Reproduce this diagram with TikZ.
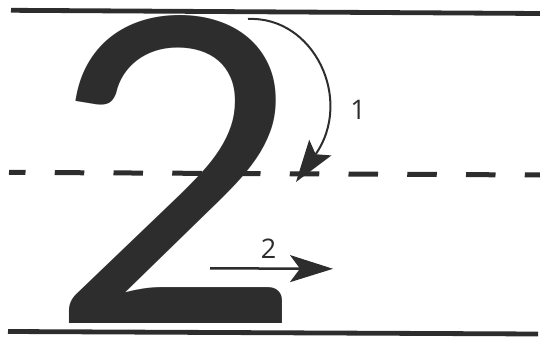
\documentclass[tikz,border=0pt]{standalone}
\usepackage{fontspec}
\usepackage{graphicx}
\usetikzlibrary{arrows.meta}
\newfontfamily\digitfont{Lato}
\newfontfamily\labelfont{Open Sans}
\definecolor{ink}{RGB}{45,45,45}
\newsavebox\twobox
\newdimen\twowd \newdimen\twoht \newdimen\twolsb \newdimen\tworsb
\tikzset{
  rule/.style={draw=ink, line width=4.8pt},
  midrule/.style={draw=ink, line width=5pt, dash pattern=on 29.5pt off 29.25pt, dash phase=13pt},
  strokearrow/.style={draw=ink, line width=2pt},
  label/.style={inner sep=0pt, text=ink, font=\labelfont\fontsize{27}{27}\selectfont}
}
\begin{document}
\sbox\twobox{\digitfont\fontsize{100}{100}\selectfont 2%
  \global\twolsb=\XeTeXglyphbounds1 \XeTeXcharglyph`2\relax
  \global\tworsb=\XeTeXglyphbounds3 \XeTeXcharglyph`2\relax}%
\global\twowd=\wd\twobox \global\twoht=\ht\twobox
\begin{tikzpicture}[x=1pt,y=-1pt]
\useasboundingbox (0,0) rectangle (540,339);
\pgfmathsetmacro\inkw{\twowd-\twolsb-\tworsb}
\pgfmathsetmacro\sx{213/\inkw}
\pgfmathsetmacro\sy{308/\twoht}
\pgfmathsetmacro\gx{69-\sx*\twolsb}
% guide lines
\coordinate (tl) at (11,10.3);
\coordinate (tr) at (540,13.5);
\coordinate (ml) at (9,172.4);
\coordinate (mr) at (540,175);
\coordinate (bl) at (8,331.5);
\coordinate (br) at (538,334);
\draw[rule] (tl) -- (tr);
\draw[midrule] (ml) -- (mr);
\draw[rule] (bl) -- (br);
% big digit
\node[anchor=base west, inner sep=0pt, outer sep=0pt, text=ink] (two) at (\gx,323)
  {\scalebox{\sx}[\sy]{\digitfont\fontsize{100}{100}\selectfont 2}};
% stroke 1
\coordinate (s1) at (248,19);
\coordinate (e1) at (296,182);
\draw[strokearrow, -{Stealth[length=42pt,width=27pt,inset=8pt]}]
  (s1) .. controls (314,16) and (354,100) .. (e1);
\node[label] (n1) at (358,110) {1};
% stroke 2
\coordinate (s2) at (210,268.3);
\coordinate (e2) at (333,268.8);
\draw[strokearrow, line width=2.5pt, -{Stealth[length=43pt,width=27pt,inset=10pt]}] (s2) -- (e2);
\node[label] (n2) at (268.5,249) {2};
\end{tikzpicture}
\end{document}
